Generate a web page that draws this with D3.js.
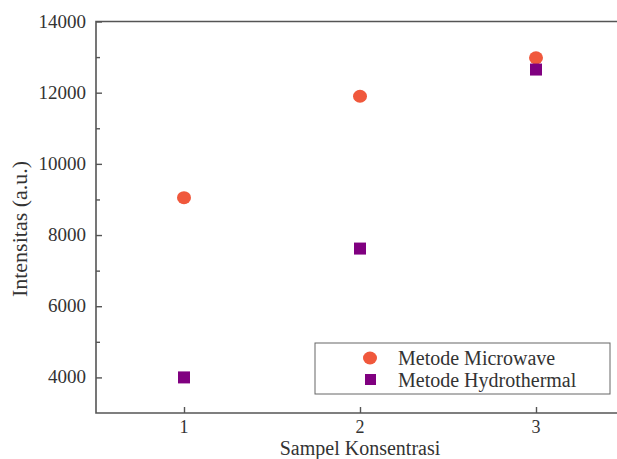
<!DOCTYPE html>
<html>
<head>
<meta charset="utf-8">
<script src="https://cdn.jsdelivr.net/npm/d3@7"></script>
<style>
  body { margin: 0; background: #fff; }
  svg { display: block; }
  text { font-family: "Liberation Serif", "DejaVu Serif", serif; fill: #333; }
</style>
</head>
<body>
<div id="chart"></div>
<script>
// data
var samples = [1, 2, 3];
var microwave = [9050, 11900, 12980];
var hydrothermal = [4000, 7620, 12650];
var yTicks = [4000, 6000, 8000, 10000, 12000, 14000];
var yMinor = [5000, 7000, 9000, 11000, 13000];
var seriesNames = ["Metode Microwave", "Metode Hydrothermal"];

var W = 617, H = 459;
var plotLeft = 96, plotTop = 21.5, plotBottom = 413;

var x = d3.scaleLinear().domain([0.5, 3.5]).range([plotLeft, plotLeft + 528]);
var y = d3.scaleLinear().domain([3000, 14000]).range([plotBottom, plotTop]);

var svg = d3.select("#chart").append("svg")
    .attr("width", W)
    .attr("height", H);

var axisColor = "#555";

// frame: left, bottom and top lines (right side is cut off)
svg.append("path")
    .attr("d", "M" + W + "," + plotTop + "H" + plotLeft + "V" + plotBottom + "H" + W)
    .attr("fill", "none")
    .attr("stroke", axisColor)
    .attr("stroke-width", 1.6);

// y axis, ticks inward
var yAxis = svg.append("g")
    .attr("transform", "translate(" + plotLeft + ",0)")
    .call(d3.axisRight(y).tickValues(yTicks).tickSize(6).tickFormat(""));
yAxis.select(".domain").remove();
yAxis.selectAll("line").attr("stroke", axisColor).attr("stroke-width", 1.4);

var yMin = svg.append("g")
    .attr("transform", "translate(" + plotLeft + ",0)")
    .call(d3.axisRight(y).tickValues(yMinor).tickSize(4).tickFormat(""));
yMin.select(".domain").remove();
yMin.selectAll("line").attr("stroke", axisColor).attr("stroke-width", 1.4);

svg.selectAll(".ylab")
    .data(yTicks)
    .enter()
    .append("text")
    .attr("class", "ylab")
    .attr("x", plotLeft - 10)
    .attr("y", function (d) { return y(d) + 6; })
    .attr("text-anchor", "end")
    .attr("font-size", "19px")
    .text(function (d) { return d; });

// x axis, ticks inward
var xAxis = svg.append("g")
    .attr("transform", "translate(0," + plotBottom + ")")
    .call(d3.axisTop(x).tickValues(samples).tickSize(6).tickFormat(""));
xAxis.select(".domain").remove();
xAxis.selectAll("line").attr("stroke", axisColor).attr("stroke-width", 1.4);

svg.selectAll(".xlab")
    .data(samples)
    .enter()
    .append("text")
    .attr("class", "xlab")
    .attr("x", function (d) { return x(d); })
    .attr("y", plotBottom + 20)
    .attr("text-anchor", "middle")
    .attr("font-size", "18px")
    .text(function (d) { return d; });

svg.append("text")
    .attr("x", 360)
    .attr("y", 455)
    .attr("text-anchor", "middle")
    .attr("font-size", "20px")
    .text("Sampel Konsentrasi");

svg.append("text")
    .attr("transform", "translate(27,229) rotate(-90)")
    .attr("text-anchor", "middle")
    .attr("font-size", "22px")
    .text("Intensitas (a.u.)");

var orange = "#f0583c", purple = "#800080";

svg.selectAll(".mw")
    .data(samples)
    .enter()
    .append("ellipse")
    .attr("class", "mw")
    .attr("cx", function (d) { return x(d); })
    .attr("cy", function (d, i) { return y(microwave[i]); })
    .attr("rx", 7)
    .attr("ry", 6.5)
    .attr("fill", orange);

svg.selectAll(".ht")
    .data(samples)
    .enter()
    .append("rect")
    .attr("class", "ht")
    .attr("x", function (d) { return x(d) - 6; })
    .attr("y", function (d, i) { return y(hydrothermal[i]) - 6; })
    .attr("width", 12)
    .attr("height", 12)
    .attr("fill", purple);

// legend
var lg = svg.append("g").attr("transform", "translate(315,343)");
lg.append("rect")
    .attr("width", 295)
    .attr("height", 51)
    .attr("fill", "#fff")
    .attr("stroke", "#666")
    .attr("stroke-width", 1);
lg.append("ellipse")
    .attr("cx", 55).attr("cy", 15).attr("rx", 7).attr("ry", 6.5)
    .attr("fill", orange);
lg.append("rect")
    .attr("x", 50).attr("y", 31).attr("width", 11).attr("height", 11)
    .attr("fill", purple);
lg.selectAll("text")
    .data(seriesNames)
    .enter()
    .append("text")
    .attr("x", 83)
    .attr("y", function (d, i) { return 22 + i * 22; })
    .attr("font-size", "20px")
    .text(function (d) { return d; });
</script>
</body>
</html>
